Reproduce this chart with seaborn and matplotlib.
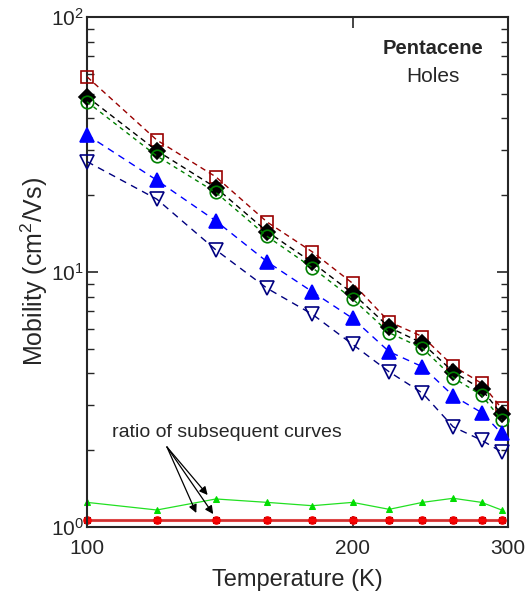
import numpy as np
import pandas as pd
import matplotlib
matplotlib.use('Agg')
import matplotlib.pyplot as plt
import seaborn as sns
from matplotlib.ticker import FixedLocator, NullFormatter

# temperatures (K)
temp = [100, 120, 140, 160, 180, 200, 220, 240, 260, 280, 295]

# mobility curves (cm^2/Vs)
mob_square = [58.3, 32.9, 23.6, 15.7, 12.0, 9.03, 6.38, 5.58, 4.28, 3.66, 2.92]
mob_diamond = [48.7, 29.9, 21.4, 14.4, 10.9, 8.25, 6.07, 5.25, 4.06, 3.47, 2.77]
mob_circle = [46.5, 28.5, 20.5, 13.8, 10.4, 7.84, 5.78, 5.02, 3.85, 3.29, 2.63]
mob_tri_up = [34.5, 22.9, 15.85, 10.97, 8.37, 6.58, 4.87, 4.25, 3.27, 2.81, 2.33]
mob_tri_down = [27.1, 19.3, 12.2, 8.63, 6.83, 5.20, 4.06, 3.35, 2.47, 2.19, 1.97]

# ratio curves
ratio_green = [1.249, 1.166, 1.288, 1.249, 1.212, 1.249, 1.173, 1.249, 1.296, 1.249, 1.166]
ratio_black = [1.065] * 11
ratio_red = [1.065] * 11

sns.set_style("ticks")
plt.rcParams['font.family'] = ['Liberation Sans', 'DejaVu Sans']
plt.rcParams['mathtext.fontset'] = 'custom'
plt.rcParams['mathtext.rm'] = 'Liberation Sans'

fig = plt.figure(figsize=(5.31, 5.92), dpi=100)
ax = fig.add_axes([0.1638, 0.1098, 0.7929, 0.8615])

curves = [
    (mob_square, '#990000', 's', 'none', 9, (4, 3)),
    (mob_diamond, 'black', 'D', 'black', 8.3, (4, 3)),
    (mob_circle, 'green', 'o', 'none', 9, (3, 3)),
    (mob_tri_up, 'blue', '^', 'blue', 10.5, (5, 4)),
    (mob_tri_down, '#000080', 'v', 'none', 10.5, (5, 4)),
]
order = [0, 2, 1, 3, 4]
for i in order:
    vals, col, mk, fc, ms, dash = curves[i]
    sns.lineplot(x=temp, y=vals, ax=ax, color=col, marker=mk, markersize=ms,
                 markerfacecolor=fc, markeredgecolor=col, markeredgewidth=1.2,
                 linewidth=1.0, dashes=dash, zorder=3 + i, clip_on=False)

sns.lineplot(x=temp, y=ratio_green, ax=ax, color='#22e022', marker='^', markersize=5,
             markeredgecolor='#00dd00', markerfacecolor='#00dd00', linewidth=0.9,
             clip_on=False)
sns.lineplot(x=temp, y=ratio_black, ax=ax, color='black', marker='s', markersize=5,
             markeredgecolor='black', linewidth=1.0, clip_on=False)
sns.lineplot(x=temp, y=ratio_red, ax=ax, color='#e03838', marker='o', markersize=5.5,
             markeredgecolor='red', markerfacecolor='red', linewidth=2.2, alpha=0.9,
             clip_on=False)

ax.set_xscale('log')
ax.set_yscale('log')
ax.set_xlim(100, 300)
ax.set_ylim(1, 100)

ax.xaxis.set_major_locator(FixedLocator([100, 200, 300]))
ax.xaxis.set_minor_locator(FixedLocator([]))
ax.set_xticklabels(['100', '200', '300'])
ax.tick_params(axis='both', which='both', direction='in', top=True, right=True)
ax.tick_params(axis='both', which='major', length=8, width=1.2, labelsize=15)
ax.tick_params(axis='both', which='minor', length=5, width=1.0)
ax.yaxis.set_minor_formatter(NullFormatter())
ax.tick_params(axis='x', which='major', pad=8.5)
ax.tick_params(axis='y', which='major', pad=2)

for sp in ax.spines.values():
    sp.set_linewidth(1.5)

ax.set_xlabel('Temperature (K)', fontsize=17, labelpad=8)
ax.set_ylabel('Mobility (cm$^2$/Vs)', fontsize=18, labelpad=1)

ax.text(0.822, 0.939, 'Pentacene', transform=ax.transAxes, ha='center', va='center',
        fontsize=14.5, fontweight='bold')
ax.text(0.822, 0.884, 'Holes', transform=ax.transAxes, ha='center', va='center',
        fontsize=15)

ax.text(144, 2.34, 'ratio of subsequent curves', ha='center', va='center', fontsize=14)
for tx, ty in [(137, 1.335), (133, 1.135), (139, 1.124)]:
    ax.annotate('', xy=(tx, ty), xytext=(123.2, 2.06),
                arrowprops=dict(arrowstyle='-|>', color='black', lw=0.9,
                                mutation_scale=12, shrinkA=0, shrinkB=0))

fig.savefig('out.png', dpi=100)
